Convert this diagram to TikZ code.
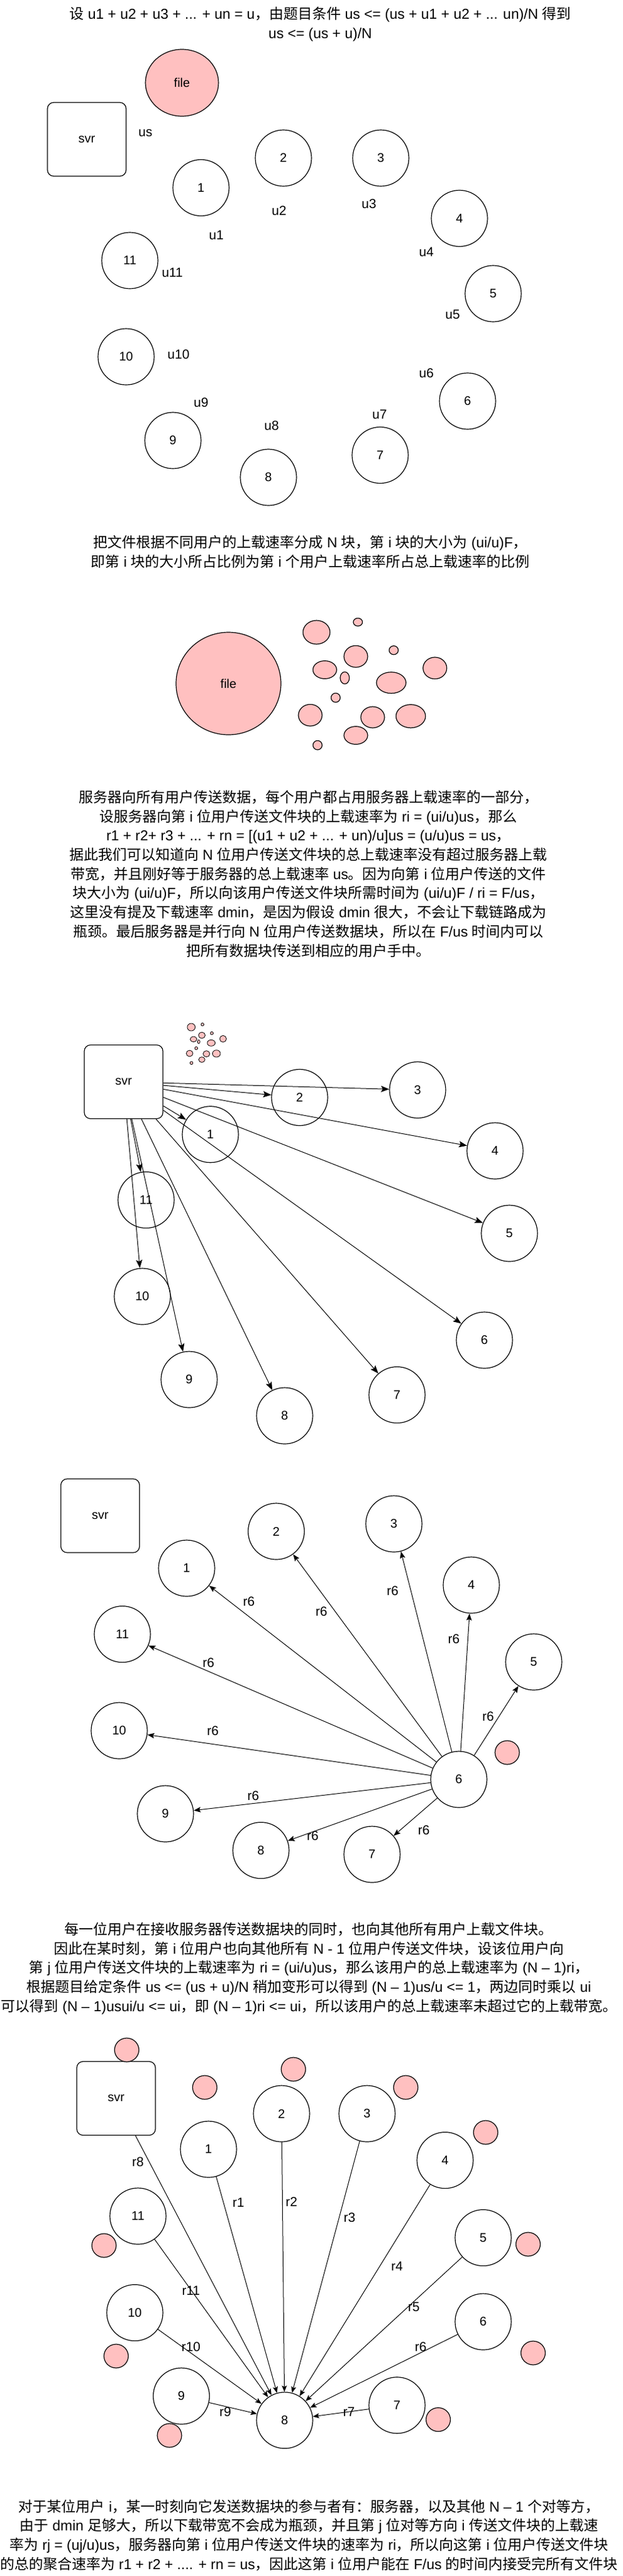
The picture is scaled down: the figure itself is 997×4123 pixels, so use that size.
\documentclass[tikz,border=0pt]{standalone}
\usepackage{fontspec}
\setmainfont{Liberation Sans}
\newfontfamily\cjk{Noto Sans CJK SC}
\usetikzlibrary{shapes.geometric,arrows.meta}
\definecolor{pinkc}{HTML}{FFC0C0}
\newcount\cjkcnt
\cjkcnt="2000 \loop \XeTeXcharclass\cjkcnt=0 \ifnum\cjkcnt<"206F \advance\cjkcnt by 1 \repeat
\cjkcnt="3000 \loop \XeTeXcharclass\cjkcnt=7 \ifnum\cjkcnt<"303F \advance\cjkcnt by 1 \repeat
\cjkcnt="4E00 \loop \XeTeXcharclass\cjkcnt=7 \ifnum\cjkcnt<"9FFF \advance\cjkcnt by 1 \repeat
\cjkcnt="FF00 \loop \XeTeXcharclass\cjkcnt=7 \ifnum\cjkcnt<"FFEF \advance\cjkcnt by 1 \repeat
\XeTeXinterchartoks 0 7 = {\begingroup\cjk}
\XeTeXinterchartoks 4095 7 = {\begingroup\cjk}
\XeTeXinterchartoks 7 0 = {\endgroup}
\XeTeXinterchartoks 7 4095 = {\endgroup}
\XeTeXinterchartokenstate=1
\begin{document}
\begin{tikzpicture}[x=1pt,y=-1pt,
  usr/.style={circle,draw,line width=1.2pt,fill=white,minimum size=90pt,inner sep=0pt,font=\fontsize{20}{24}\selectfont},
  svrbox/.style={draw,rounded corners=10pt,line width=1.2pt,fill=white,minimum width=126pt,minimum height=118pt,inner sep=0pt,font=\fontsize{20}{24}\selectfont},
  lbl/.style={inner sep=0pt,font=\fontsize{21}{25}\selectfont},
  para/.style={align=center,inner sep=0pt,font=\fontsize{23}{30.7}\selectfont},
  pinkb/.style={ellipse,draw,fill=pinkc,line width=1.2pt,inner sep=0pt,font=\fontsize{20}{24}\selectfont},
  arrC/.style={-{Stealth[length=13pt,width=10pt,inset=2.5pt]},line width=1pt},
  arrD/.style={-{Stealth[length=11pt,width=8.5pt,inset=2pt]},line width=1pt},
  arrE/.style={-{Stealth[length=10pt,width=8pt,inset=2pt]},line width=1pt}]
\useasboundingbox (0,0) rectangle (997,4123);
\fill[white] (0,0) rectangle (997,4123);

% ---------- section 1 ----------
\node[para] (title) at (513,39) {设 u1 + u2 + u3 + ... + un = u，由题目条件 us <= (us + u1 + u2 + ... un)/N 得到\\us <= (us + u)/N};
\node[svrbox] (svra) at (139,223) {svr};
\node[pinkb,minimum width=117pt,minimum height=107pt] (filea) at (291.5,132.5) {file};
\node[lbl] (lus) at (233,213) {us};
\foreach \n/\x/\y in {1/322/300.5,2/454/253,3/610/253,4/736/349.5,5/790/470,6/749/642,7/609/728.5,8/430/764,9/277/705,10/202/571,11/208/417}
  \node[usr] (a\n) at (\x,\y) {\n};
\foreach \t/\x/\y in {u1/346.5/376,u2/447/337,u3/591/326.5,u4/683/403,u5/725/503.5,u6/683/597,u7/608/663,u8/435/681,u9/322/644,u10/286/567,u11/276/436}
  \node[lbl] (l\t) at (\x,\y) {\t};

% ---------- section 2 ----------
\node[para] (p1) at (497,883) {把文件根据不同用户的上载速率分成 N 块，第 i 块的大小为 (ui/u)F，\\即第 i 块的大小所占比例为第 i 个用户上载速率所占总上载速率的比例};
\node[pinkb,minimum width=168pt,minimum height=164pt] (fileb) at (366,1094) {file};
\foreach \i/\x/\y/\w/\h in {1/507/1012/43.3/38,2/573.3/995.7/14.7/12.7,3/570/1050.7/38/34.7,4/630.7/1040.7/14.7/14,5/696.7/1069.3/38/34.7,6/520.3/1072/38/28.7,7/552.3/1085/14.7/19.3,8/626.7/1092.7/47.3/34,9/537.7/1116.7/14.7/14.7,10/497/1144.7/38/34.7,11/597/1148/38/34,12/658/1146.3/47.3/37.3,13/570/1177/38/28.7,14/508.7/1192.7/14.7/14.7}
  \node[pinkb,minimum width=\w pt,minimum height=\h pt] (b\i) at (\x,\y) {};
\node[para] (p2) at (494,1398.5) {服务器向所有用户传送数据，每个用户都占用服务器上载速率的一部分，\\设服务器向第 i 位用户传送文件块的上载速率为 ri = (ui/u)us，那么\\r1 + r2+ r3 + ... + rn = [(u1 + u2 + ... + un)/u]us = (u/u)us = us，\\据此我们可以知道向 N 位用户传送文件块的总上载速率没有超过服务器上载\\带宽，并且刚好等于服务器的总上载速率 us。因为向第 i 位用户传送的文件\\块大小为 (ui/u)F，所以向该用户传送文件块所需时间为 (ui/u)F / ri = F/us，\\这里没有提及下载速率 dmin，是因为假设 dmin 很大，不会让下载链路成为\\瓶颈。最后服务器是并行向 N 位用户传送数据块，所以在 F/us 时间内可以\\把所有数据块传送到相应的用户手中。};

% ---------- section 3 ----------
\node[svrbox] (svrc) at (198,1731.5) {svr};
\foreach \i/\x/\y/\w/\h in {1/306.3/1644/12.7/12,2/324.3/1639.7/4.7/4.7,3/323.3/1657/10.7/10,4/339.3/1653.7/4.7/4.7,5/357.3/1662.7/10.7/10.7,6/310/1663.3/10.7/8.7,7/318.3/1667.3/4/6,8/338.3/1669.3/12.7/10,9/314.3/1677.7/4.7/4.7,10/303.7/1686/10.7/10,11/330.7/1686.7/10.7/10,12/346.7/1686.3/12.7/11.3,13/323.3/1696/10/8.7,14/306.7/1701.3/4.7/4.7}
  \node[pinkb,line width=0.8pt,minimum width=\w pt,minimum height=\h pt] (t\i) at (\x,\y) {};
\foreach \n/\x/\y in {1/337/1815.7,2/480/1756.5,3/669/1744.5,4/793/1842,5/816/1974,6/776/2145,7/636/2232.6,8/456/2266,9/303/2208,10/228/2075,11/234/1920.6}
  \node[usr] (c\n) at (\x,\y) {\n};
\foreach \n in {1,...,11}
  \draw[arrC] (svrc) -- (c\n);

% ---------- section 4 ----------
\node[svrbox] (svrd) at (160.5,2426) {svr};
\foreach \n/\x/\y in {1/299/2510,2/442.5/2451,3/631/2439,4/755/2537,5/855/2660,6/735/2848,7/596/2968,8/418/2961.6,9/265/2903,10/191/2770,11/196/2615.6}
  \node[usr] (d\n) at (\x,\y) {\n};
\node[pinkb,minimum width=39pt,minimum height=38pt] (pd) at (812.5,2805) {};
\foreach \n in {1,2,3,4,5,7,8,9,10,11}
  \draw[arrD] (d6) -- (d\n);
\foreach \n/\x/\y in {1/398.6/2563,2/515/2579,3/629/2546,4/727/2623,11/334/2661.6,5/782/2747,10/341/2770,9/405.6/2874.5,8/501/2938.6,7/679/2929}
  \node[lbl] (rd\n) at (\x,\y) {r6};

\node[para] (p3) at (495,3150.5) {每一位用户在接收服务器传送数据块的同时，也向其他所有用户上载文件块。\\因此在某时刻，第 i 位用户也向其他所有 N - 1 位用户传送文件块，设该位用户向\\第 j 位用户传送文件块的上载速率为 ri = (ui/u)us，那么该用户的总上载速率为 (N – 1)ri，\\根据题目给定条件 us <= (us + u)/N 稍加变形可以得到 (N – 1)us/u <= 1，两边同时乘以 ui\\可以得到 (N – 1)usui/u <= ui，即 (N – 1)ri <= ui，所以该用户的总上载速率未超过它的上载带宽。};

% ---------- section 6 ----------
\node[svrbox] (svre) at (186,3358.5) {svr};
\foreach \n/\x/\y in {1/334/3440,2/451/3383,3/588/3383,4/713/3457.6,5/774/3581.6,6/774/3716,7/636/3849.7,8/456/3873.8,9/290.5/3835,10/216/3701.6,11/221/3547}
  \node[usr] (e\n) at (\x,\y) {\n};
\foreach \i/\x/\y in {1/203/3281,2/328/3341,3/470/3312,4/650/3341,5/778/3413,6/166.6/3594,7/846/3592,8/186/3771,9/854/3766,10/271.5/3898,11/702/3872.6}
  \node[pinkb,minimum width=39pt,minimum height=38pt] (pe\i) at (\x,\y) {};
\draw[arrE] (svre) -- (e8);
\foreach \n in {1,2,3,4,5,6,7,9,10,11}
  \draw[arrE] (e\n) -- (e8);
\foreach \t/\x/\y in {r8/221/3460,r1/382/3525,r2/467/3524,r3/560/3549,r4/636/3627,r11/306/3666,r5/663/3692,r10/306/3756,r6/674/3756,r9/361/3860.6,r7/559/3860.6}
  \node[lbl] (re\t) at (\x,\y) {\t};

\node[para] (p4) at (495,4057.5) {对于某位用户 i，某一时刻向它发送数据块的参与者有：服务器，以及其他 N – 1 个对等方，\\由于 dmin 足够大，所以下载带宽不会成为瓶颈，并且第 j 位对等方向 i 传送文件块的上载速\\率为 rj = (uj/u)us，服务器向第 i 位用户传送文件块的速率为 ri，所以向这第 i 位用户传送文件块\\的总的聚合速率为 r1 + r2 + .... + rn = us，因此这第 i 位用户能在 F/us 的时间内接受完所有文件块};
\end{tikzpicture}
\end{document}
